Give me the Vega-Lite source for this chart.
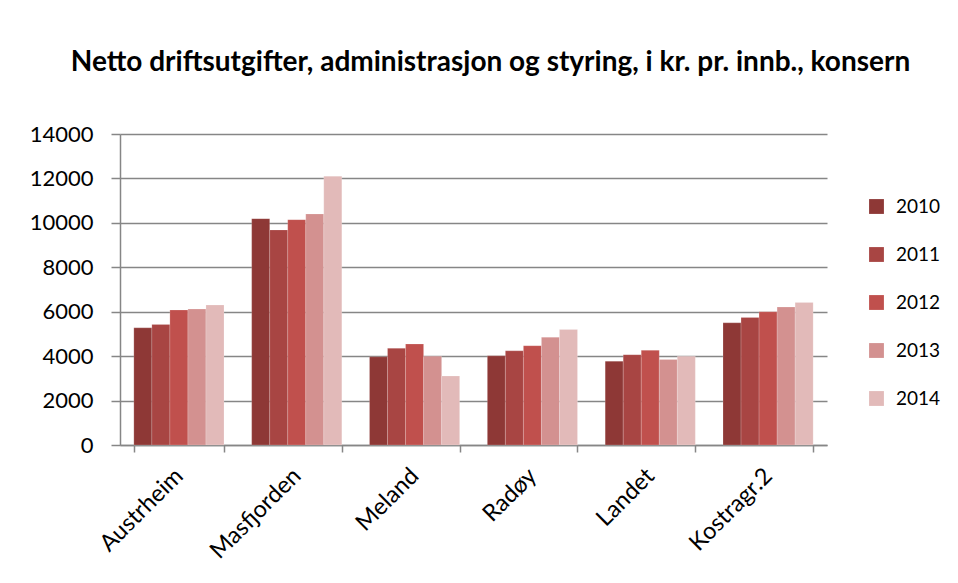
{
  "$schema": "https://vega.github.io/schema/vega-lite/v6.json",
  "width": 707,
  "height": 311,
  "autosize": "none",
  "padding": {"left": 120, "top": 134, "right": 131, "bottom": 138},
  "background": "white",
  "title": {
    "text": "Netto driftsutgifter, administrasjon og styring, i kr. pr. innb., konsern",
    "font": "Lato",
    "fontSize": 28,
    "fontWeight": "bold",
    "color": "#000000",
    "anchor": "middle",
    "dx": 17,
    "offset": 46
  },
  "data": {
    "values": [
      {"kommune": "Austrheim", "year": "2010", "value": 5275},
      {"kommune": "Austrheim", "year": "2011", "value": 5430},
      {"kommune": "Austrheim", "year": "2012", "value": 6075},
      {"kommune": "Austrheim", "year": "2013", "value": 6120},
      {"kommune": "Austrheim", "year": "2014", "value": 6300},
      {"kommune": "Masfjorden", "year": "2010", "value": 10190},
      {"kommune": "Masfjorden", "year": "2011", "value": 9680},
      {"kommune": "Masfjorden", "year": "2012", "value": 10145},
      {"kommune": "Masfjorden", "year": "2013", "value": 10400},
      {"kommune": "Masfjorden", "year": "2014", "value": 12100},
      {"kommune": "Meland", "year": "2010", "value": 3970},
      {"kommune": "Meland", "year": "2011", "value": 4350},
      {"kommune": "Meland", "year": "2012", "value": 4545},
      {"kommune": "Meland", "year": "2013", "value": 4000},
      {"kommune": "Meland", "year": "2014", "value": 3105},
      {"kommune": "Radøy", "year": "2010", "value": 4015},
      {"kommune": "Radøy", "year": "2011", "value": 4240},
      {"kommune": "Radøy", "year": "2012", "value": 4470},
      {"kommune": "Radøy", "year": "2013", "value": 4850},
      {"kommune": "Radøy", "year": "2014", "value": 5200},
      {"kommune": "Landet", "year": "2010", "value": 3775},
      {"kommune": "Landet", "year": "2011", "value": 4065},
      {"kommune": "Landet", "year": "2012", "value": 4260},
      {"kommune": "Landet", "year": "2013", "value": 3850},
      {"kommune": "Landet", "year": "2014", "value": 3990},
      {"kommune": "Kostragr.2", "year": "2010", "value": 5500},
      {"kommune": "Kostragr.2", "year": "2011", "value": 5740},
      {"kommune": "Kostragr.2", "year": "2012", "value": 6000},
      {"kommune": "Kostragr.2", "year": "2013", "value": 6210},
      {"kommune": "Kostragr.2", "year": "2014", "value": 6420}
    ]
  },
  "mark": {"type": "bar", "stroke": "white", "strokeOpacity": 0.35, "strokeWidth": 0.5},
  "encoding": {
    "x": {
      "field": "kommune",
      "type": "nominal",
      "sort": null,
      "scale": {"paddingInner": 0.235, "paddingOuter": 0.1175},
      "axis": {
        "title": null,
        "labelAngle": -45,
        "labelAlign": "right",
        "labelBaseline": "middle",
        "labelFont": "Lato",
        "labelFontSize": 23.5,
        "labelColor": "#000000",
        "labelPadding": 20,
        "labelOffset": 0,
        "tickBand": "extent",
        "tickColor": "#868686",
        "tickSize": 7,
        "tickWidth": 1.5,
        "domainColor": "#868686",
        "domainWidth": 1.5,
        "grid": false
      }
    },
    "xOffset": {"field": "year", "type": "nominal", "scale": {"paddingInner": 0, "paddingOuter": 0}},
    "y": {
      "field": "value",
      "type": "quantitative",
      "scale": {"domain": [0, 14000], "nice": false},
      "axis": {
        "title": null,
        "values": [0, 2000, 4000, 6000, 8000, 10000, 12000, 14000],
        "format": "d",
        "labelFont": "Lato",
        "labelFontSize": 22,
        "labelColor": "#000000",
        "labelPadding": 18,
        "tickColor": "#868686",
        "tickSize": 9,
        "tickWidth": 1.5,
        "domainColor": "#868686",
        "domainWidth": 1.5,
        "gridColor": "#868686",
        "gridWidth": 1.5
      }
    },
    "color": {
      "field": "year",
      "type": "nominal",
      "scale": {
        "domain": ["2010", "2011", "2012", "2013", "2014"],
        "range": ["#8E3836", "#A84543", "#C0504D", "#D39190", "#E2BAB9"]
      },
      "legend": {
        "title": null,
        "orient": "none",
        "legendX": 747,
        "legendY": 63,
        "symbolType": "square",
        "symbolSize": 220,
        "symbolStrokeWidth": 0,
        "labelFont": "Lato",
        "labelFontSize": 19,
        "labelColor": "#000000",
        "labelOffset": 10,
        "rowPadding": 28
      }
    }
  },
  "config": {
    "view": {"stroke": null}
  }
}
